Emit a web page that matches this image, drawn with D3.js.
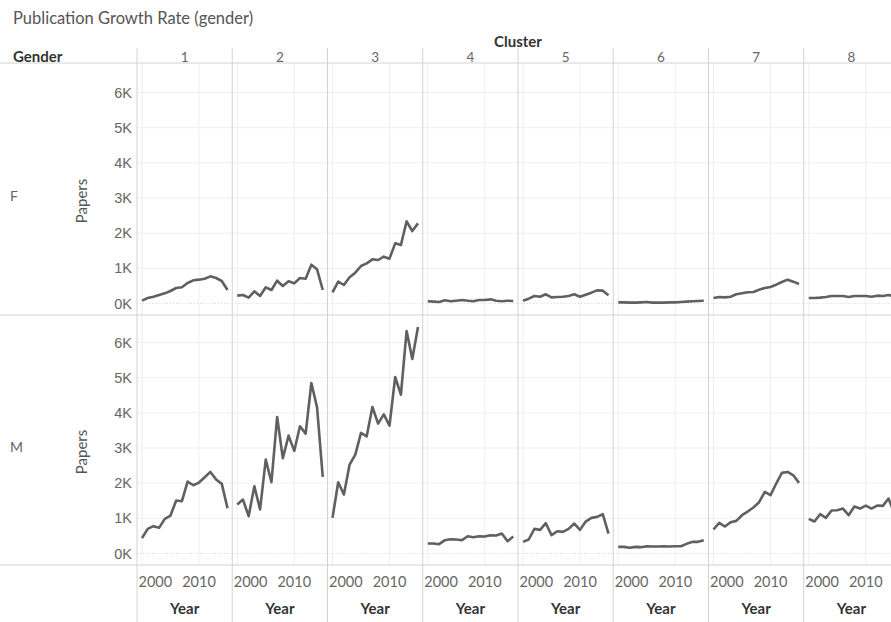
<!DOCTYPE html>
<html>
<head>
<meta charset="utf-8">
<script src="https://cdn.jsdelivr.net/npm/d3@7"></script>
<style>
  body { margin: 0; background: #fff; }
  svg { display: block; font-family: Lato, 'Open Sans', sans-serif; }
</style>
</head>
<body>
<svg id="chart" width="891" height="622"></svg>
<script>
var clusters = ['1', '2', '3', '4', '5', '6', '7', '8'];
var genders = ['F', 'M'];
var years = [2000, 2001, 2002, 2003, 2004, 2005, 2006, 2007, 2008, 2009, 2010, 2011, 2012, 2013, 2014, 2015];
var yearTicks = [2000, 2010];
var paperTicks = [0, 1000, 2000, 3000, 4000, 5000, 6000];

// papers per year, one array per cluster
var femalePapers = [
  [80, 156, 194, 242, 289, 355, 441, 460, 583, 659, 678, 706, 772, 725, 640, 384],
  [223, 242, 166, 346, 213, 460, 384, 649, 498, 630, 573, 725, 706, 1104, 972, 384],
  [318, 621, 526, 744, 877, 1066, 1142, 1256, 1237, 1332, 1275, 1711, 1663, 2336, 2061, 2279],
  [62, 52, 43, 90, 62, 80, 100, 80, 62, 100, 100, 118, 80, 62, 80, 71],
  [80, 137, 213, 194, 261, 175, 185, 194, 213, 261, 194, 250, 308, 374, 365, 232],
  [33, 33, 24, 24, 33, 43, 24, 24, 24, 33, 33, 43, 52, 62, 71, 80],
  [156, 185, 175, 194, 261, 289, 318, 327, 393, 441, 469, 535, 611, 678, 621, 554],
  [156, 156, 166, 185, 213, 213, 213, 185, 213, 213, 213, 194, 223, 213, 242, 200]
];
var malePapers = [
  [436, 701, 777, 729, 985, 1080, 1506, 1487, 2045, 1941, 2017, 2169, 2320, 2102, 1979, 1288],
  [1392, 1534, 1061, 1913, 1250, 2670, 2027, 3883, 2708, 3352, 2917, 3617, 3409, 4848, 4157, 2178],
  [1013, 2027, 1676, 2528, 2812, 3428, 3333, 4167, 3693, 3958, 3636, 5019, 4517, 6326, 5530, 6439],
  [284, 284, 265, 379, 407, 398, 379, 492, 464, 492, 483, 521, 511, 568, 350, 483],
  [331, 398, 701, 672, 862, 521, 634, 616, 701, 852, 672, 909, 1013, 1042, 1117, 568],
  [189, 189, 161, 189, 180, 208, 199, 199, 208, 199, 208, 208, 275, 331, 331, 379],
  [682, 871, 767, 890, 928, 1089, 1193, 1307, 1458, 1752, 1657, 1989, 2292, 2320, 2225, 2008],
  [985, 909, 1117, 1013, 1222, 1231, 1278, 1089, 1335, 1278, 1364, 1278, 1364, 1354, 1563, 1150]
];
var papersByGender = { F: femalePapers, M: malePapers };

var svg = d3.select('#chart');
var width = 891;
var paneLeft = 137;
var paneWidth = 95.25;
var headerTop = 48;
var rowBreaks = [63, 315, 565];
var sepColor = '#d2d2d2';
var gridColor = '#efefef';

var xScale = d3.scaleLinear()
  .domain([2000 - 5 / 5.7, 2000 + (paneWidth - 5) / 5.7])
  .range([0, paneWidth]);
var colScale = d3.scaleBand().domain(clusters)
  .range([paneLeft, paneLeft + paneWidth * clusters.length]);

// title
svg.append('text')
  .attr('x', 13).attr('y', 24)
  .attr('font-size', 16.5)
  .attr('fill', '#555')
  .text('Publication Growth Rate (gender)');

// header texts
svg.append('text')
  .attr('x', (paneLeft + paneLeft + paneWidth * clusters.length) / 2).attr('y', 47)
  .attr('text-anchor', 'middle')
  .attr('font-size', 15).attr('font-weight', 'bold')
  .attr('fill', '#333')
  .text('Cluster');
svg.append('text')
  .attr('x', 13).attr('y', 62)
  .attr('font-size', 15).attr('font-weight', 'bold')
  .attr('fill', '#333')
  .text('Gender');
svg.selectAll('.colLabel').data(clusters).enter().append('text')
  .attr('class', 'colLabel')
  .attr('x', function(d) { return colScale(d) + paneWidth / 2; })
  .attr('y', 62)
  .attr('text-anchor', 'middle')
  .attr('font-size', 13.5)
  .attr('fill', '#666')
  .text(function(d) { return d; });

function drawRow(gender, i) {
  var top = rowBreaks[i];
  var bottom = rowBreaks[i + 1];
  var yScale = d3.scaleLinear().domain([0, 6000]).range([bottom - 11.5, bottom - 222.5]);
  var rowData = papersByGender[gender];

  // row header and axis
  svg.append('text')
    .attr('x', 10).attr('y', (top + bottom) / 2 + 12)
    .attr('font-size', 14).attr('fill', '#666')
    .text(gender);
  svg.append('text')
    .attr('transform', 'translate(87,' + ((top + bottom) / 2 + 12) + ') rotate(-90)')
    .attr('text-anchor', 'middle')
    .attr('font-size', 15).attr('fill', '#555')
    .text('Papers');
  var yAxisGroup = svg.append('g')
    .attr('transform', 'translate(' + (paneLeft - 5) + ',0)')
    .call(d3.axisLeft(yScale).tickValues(paperTicks).tickSize(0).tickPadding(0)
      .tickFormat(function(d) { return (d / 1000) + 'K'; }));
  yAxisGroup.select('.domain').remove();
  yAxisGroup.selectAll('text')
    .attr('font-family', null)
    .attr('font-size', 14.5).attr('fill', '#666');

  clusters.forEach(function(c, j) {
    var pane = svg.append('g')
      .attr('transform', 'translate(' + colScale(c) + ',0)');
    pane.selectAll('.hgrid').data(paperTicks.slice(1)).enter().append('line')
      .attr('class', 'hgrid')
      .attr('x1', 0).attr('x2', paneWidth)
      .attr('y1', function(d) { return yScale(d); })
      .attr('y2', function(d) { return yScale(d); })
      .attr('stroke', gridColor);
    pane.selectAll('.vgrid').data(yearTicks).enter().append('line')
      .attr('class', 'vgrid')
      .attr('x1', function(d) { return xScale(d); })
      .attr('x2', function(d) { return xScale(d); })
      .attr('y1', top).attr('y2', bottom)
      .attr('stroke', gridColor);
    pane.append('line')
      .attr('x1', 0).attr('x2', paneWidth)
      .attr('y1', yScale(0)).attr('y2', yScale(0))
      .attr('stroke', '#d8d8d8')
      .attr('stroke-dasharray', '1,2');

    var line = d3.line()
      .x(function(d, k) { return xScale(years[k]); })
      .y(function(d) { return yScale(d); });
    pane.append('path')
      .datum(rowData[j])
      .attr('d', line)
      .attr('fill', 'none')
      .attr('stroke', '#606060')
      .attr('stroke-width', 2.6)
      .attr('stroke-linejoin', 'round');
  });
}

genders.forEach(drawRow);

// bottom year axis per pane
clusters.forEach(function(c) {
  var g = svg.append('g')
    .attr('transform', 'translate(' + colScale(c) + ',0)');
  g.selectAll('.yearLabel').data(yearTicks).enter().append('text')
    .attr('class', 'yearLabel')
    .attr('x', function(d, i) { return i == 0 ? 1.5 : xScale(d); })
    .attr('y', 587)
    .attr('text-anchor', function(d, i) { return i == 0 ? 'start' : 'middle'; })
    .attr('font-size', 14.5).attr('fill', '#666')
    .text(function(d) { return d; });
  g.append('text')
    .attr('x', paneWidth / 2).attr('y', 614)
    .attr('text-anchor', 'middle')
    .attr('font-size', 15).attr('font-weight', 'bold')
    .attr('fill', '#333')
    .text('Year');
});

// separators
svg.selectAll('.vsep').data(d3.range(clusters.length + 1)).enter().append('line')
  .attr('class', 'vsep')
  .attr('x1', function(d) { return paneLeft + d * paneWidth; })
  .attr('x2', function(d) { return paneLeft + d * paneWidth; })
  .attr('y1', headerTop).attr('y2', 622)
  .attr('stroke', sepColor);
svg.selectAll('.hsep').data(rowBreaks).enter().append('line')
  .attr('class', 'hsep')
  .attr('x1', 0).attr('x2', width)
  .attr('y1', function(d) { return d; })
  .attr('y2', function(d) { return d; })
  .attr('stroke', sepColor);
</script>
</body>
</html>
